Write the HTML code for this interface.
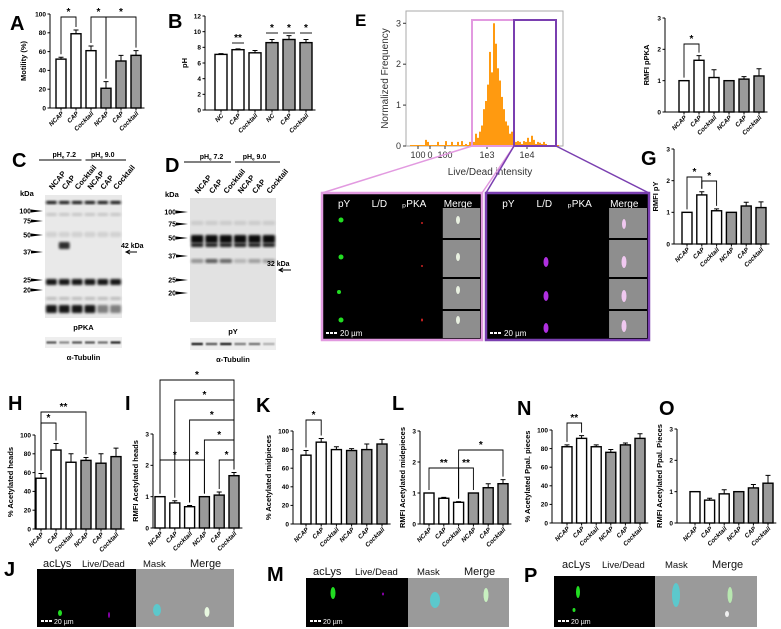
<!DOCTYPE html>
<html><head><meta charset="utf-8"><style>
html,body{margin:0;padding:0;background:#fff;}
svg{display:block;font-family:"Liberation Sans",Arial,sans-serif;}
</style></head><body>
<svg id="fig" width="781" height="629" viewBox="0 0 781 629" xmlns="http://www.w3.org/2000/svg">
<defs>
<filter id="bl" x="-20%" y="-50%" width="140%" height="200%"><feGaussianBlur stdDeviation="1.2"/></filter>
<filter id="bl2" x="-50%" y="-50%" width="200%" height="200%"><feGaussianBlur stdDeviation="0.8"/></filter>
</defs>
<rect width="781" height="629" fill="#fff"/>
<g id="letters" font-weight="bold" font-size="20" fill="#000">
<text x="10" y="30">A</text><text x="168" y="28">B</text><text x="12" y="167">C</text><text x="165" y="172">D</text>
<text x="355" y="26" font-size="17">E</text><text x="641" y="165">G</text>
<text x="8" y="410">H</text><text x="125" y="410">I</text><text x="256" y="412">K</text><text x="392" y="410">L</text>
<text x="517" y="415">N</text><text x="659" y="415">O</text>
<text x="4" y="576">J</text><text x="267" y="581">M</text><text x="524" y="582">P</text>
</g>
<g id="charts"></g>
<g id="blots"></g>
<g id="hist"></g>
<g id="micro"></g>
</svg>
<script>
const cats = ['NCAP','CAP','Cocktail','NCAP','CAP','Cocktail'];
const catsB = ['NC','CAP','Cocktail','NC','CAP','Cocktail'];
const aValues=[52,79,61,21,50,56]; const aErrs=[2,4,5,7,6,5];
const bValues=[7.1,7.7,7.3,8.6,9.0,8.6]; const bErrs=[0.1,0.1,0.3,0.4,0.5,0.4];
const fValues=[1,1.65,1.1,1,1.05,1.15]; const fErrs=[0,0.15,0.25,0,0.08,0.23];
const gValues=[1,1.55,1.05,1,1.2,1.15]; const gErrs=[0,0.1,0.06,0,0.12,0.18];
const hValues=[54,84,71,73,70,77]; const hErrs=[5,7,9,3,10,9];
const iValues=[1,0.8,0.68,1,1.05,1.67]; const iErrs=[0,0.07,0.04,0,0.1,0.1];
const kValues=[74,88,80,79,80,86]; const kErrs=[5,4,3,2,6,5];
const lValues=[1,0.83,0.7,1,1.17,1.3]; const lErrs=[0,0.03,0.02,0,0.13,0.13];
const nValues=[82,91,82,76,84,91]; const nErrs=[2,3,2,3,2,5];
const oValues=[1,0.73,0.93,1,1.12,1.27]; const oErrs=[0,0.06,0.13,0,0.11,0.25];
const histStartLog=1.4; const histBinLog=0.05;
const histValues=[0,0.15,0.1,0,0,0.02,0,0.1,0,0,0,0.12,0,0,0.1,0.02,0,0.1,0,0.12,0,0.05,0,0.1,
0.15,0.1,0.3,0.2,0.35,0.5,0.9,1.1,
1.5,2.3,1.8,3.0,2.5,1.9,1.6,1.2,0.9,0.6,
0.5,0.3,0.35,0.15,0.1,0.12,0.1,0.05,0.12,0.1,0.2,
0.1,0.25,0.15,0.05,0.1,0.08,0.05,0.1,0.05,0.02,0,0.02,0,0];
const histYTicks=[0,1,2,3];

const NS='http://www.w3.org/2000/svg';
function el(tag,attrs,parent,txt){const e=document.createElementNS(NS,tag);for(const k in attrs)e.setAttribute(k,attrs[k]);if(txt!==undefined)e.textContent=txt;parent.appendChild(e);return e;}

function barChart(name,cfg,labels,values,errs,sigs){
  const root=document.getElementById('charts');
  const g=el('g',{},root);
  
  
  const yS=v=>cfg.y0-v/cfg.ymax*(cfg.y0-cfg.yTop);
  const xS=i=>cfg.c0+i*cfg.step;
  const xEnd=xS(values.length-1)+cfg.step/2+1;
  const ya=el('line',{x1:cfg.ax,y1:cfg.yTop,x2:cfg.ax,y2:cfg.y0,stroke:'#000','stroke-width':1},g);
  
  
  const xa=el('line',{x1:cfg.ax,y1:cfg.y0,x2:xEnd,y2:cfg.y0,stroke:'#000','stroke-width':1},g);
  
  
  for(let v=0;v<=cfg.ymax+1e-9;v+=cfg.tick){
    const y=yS(v);
    el('line',{x1:cfg.ax-2.5,y1:y,x2:cfg.ax,y2:y,stroke:'#000','stroke-width':1},g);
    const t=el('text',{x:cfg.ax-4,y:y+2.3,'font-size':6.5,'font-weight':'bold','text-anchor':'end'},g,String(Math.round(v)));
    
    
  }
  const tt=el('text',{x:0,y:0,'font-size':7.5,'font-weight':'bold','text-anchor':'middle',transform:`translate(${cfg.ax-cfg.tOff},${(cfg.y0+cfg.yTop)/2}) rotate(-90)`},g,cfg.title);
  
  
  values.forEach((v,i)=>{
    const cx=xS(i),top=yS(v);
    const r=el('rect',{x:cx-cfg.bw/2,y:top,width:cfg.bw,height:cfg.y0-top,fill:i<3?'#fff':'#9a9a9a',stroke:'#000','stroke-width':1.4},g);
    
    
    if(errs[i]>0){
      const ey=yS(v+errs[i]);
      const e=el('path',{d:`M${cx},${top}V${ey}M${cx-2.5},${ey}H${cx+2.5}`,stroke:'#000','stroke-width':1,fill:'none'},g);
      
      
    }
    el('line',{x1:cx,y1:cfg.y0,x2:cx,y2:cfg.y0+2.5,stroke:'#000','stroke-width':1},g);
    const lt=el('text',{x:0,y:0,'font-size':6.3,'font-weight':'bold','font-style':'italic','text-anchor':'end',transform:`translate(${cx+3},${cfg.y0+6}) rotate(-45)`},g,labels[i]);
    
    
  });
  (sigs||[]).forEach(s=>{
    const [a,b,yl,txt]=s;
    let d;
    if(a===b){const cx=xS(a);d=`M${cx-6},${yl}H${cx+6}`;}
    else{const xa_=xS(a),xb_=xS(b);
      const ya_=Math.max(yl+4,yS(values[a]+errs[a])-3),yb_=Math.max(yl+4,yS(values[b]+errs[b])-3);
      d=`M${xa_},${ya_}V${yl}H${xb_}V${yb_}`;}
    const p=el('path',{d:d,stroke:'#000','stroke-width':0.9,fill:'none'},g);
    
    
    const st=el('text',{x:(xS(a)+xS(b))/2,y:yl-2,'font-size':10,'font-weight':'bold','text-anchor':'middle'},g,txt);
    
    
  });
}
barChart('chart-a-motility',{ax:50,y0:108,yTop:14,ymax:100,tick:20,c0:61,step:15,bw:10,title:'Motility (%)',tOff:24},cats,aValues,aErrs,[[0,1,17,'*'],[2,3,17,'*'],[3,5,17,'*']]);
barChart('chart-b-ph',{ax:205,y0:110,yTop:16,ymax:12,tick:2,c0:221,step:17,bw:12,title:'pH',tOff:18},catsB,bValues,bErrs,[[1,1,43,'**'],[3,3,33,'*'],[4,4,33,'*'],[5,5,33,'*']]);
barChart('chart-f-rmfi-ppka',{ax:665,y0:112,yTop:18,ymax:3,tick:1,c0:684,step:15,bw:10,title:'RMFI pPKA',tOff:16},cats,fValues,fErrs,[[0,1,44,'*']]);
barChart('chart-g-rmfi-py',{ax:674,y0:244,yTop:149,ymax:3,tick:1,c0:687,step:14.8,bw:10,title:'RMFI pY',tOff:16},cats,gValues,gErrs,[[0,1,177,'*'],[1,2,181,'*']]);
barChart('chart-h-acetylated-heads',{ax:35,y0:529,yTop:435,ymax:100,tick:20,c0:41,step:15,bw:10,title:'% Acetylated heads',tOff:22},cats,hValues,hErrs,[[0,1,423,'*'],[0,3,412,'**']]);
barChart('chart-i-rmfi-heads',{ax:153,y0:528,yTop:434,ymax:3,tick:1,c0:160,step:14.8,bw:10,title:'RMFI Acetylated heads',tOff:15},cats,iValues,iErrs,[[0,5,380,'*'],[1,5,400,'*'],[2,5,420,'*'],[3,5,440,'*'],[0,2,460,'*'],[2,3,460,'*'],[4,5,460,'*']]);
barChart('chart-k-acetylated-midpieces',{ax:293,y0:524,yTop:431,ymax:100,tick:20,c0:306,step:15.2,bw:10,title:'% Acetylated midpieces',tOff:22},cats,kValues,kErrs,[[0,1,420,'*']]);
barChart('chart-l-rmfi-midpieces',{ax:420,y0:524,yTop:431,ymax:3,tick:1,c0:429,step:14.8,bw:10,title:'RMFI Acetylated midepieces',tOff:15},cats,lValues,lErrs,[[0,2,468,'**'],[2,3,468,'**'],[2,5,450,'*']]);
barChart('chart-n-acetylated-ppal',{ax:552,y0:523,yTop:430,ymax:100,tick:20,c0:567,step:14.6,bw:10,title:'% Acetylated Ppal. pieces',tOff:22},cats,nValues,nErrs,[[0,1,423,'**']]);
barChart('chart-o-rmfi-ppal',{ax:677,y0:523,yTop:429,ymax:3,tick:1,c0:695,step:14.6,bw:10,title:'RMFI Acetylated Ppal. Pieces',tOff:15},cats,oValues,oErrs,[]);

(function(){
  const g=document.getElementById('blots');
  function blot(name,x0,x1,y0,y1,bg,bands,markers,header,lanesY,caption,capY,tub){
    const bx=el('g',{},g);
    
    
    el('rect',{x:x0,y:y0,width:x1-x0,height:y1-y0,fill:bg},bx);
    const lw=(x1-x0)/6;
    bands.forEach(b=>{
      el('rect',{x:x0+b[0]*lw+1,y:b[1],width:lw-2,height:b[2],fill:'#000',opacity:b[3],rx:1.5,filter:'url(#bl)'},bx);
    });
    markers.forEach(m=>{
      el('text',{x:x0-14,y:m[1]+2.5,'font-size':7,'font-weight':'bold','text-anchor':'end'},bx,m[0]);
      el('path',{d:`M${x0-14},${m[1]-1.5}L${x0-2},${m[1]}L${x0-14},${m[1]+1.5}Z`,fill:'#000'},bx);
    });
    el('text',{x:x0-25,y:markers[0][1]-15,'font-size':7.5,'font-weight':'bold'},bx,'kDa');
    const mid=(x0+x1)/2;
    el('line',{x1:x0-6,y1:header,x2:mid-2,y2:header,stroke:'#000','stroke-width':1},bx);
    el('line',{x1:mid+2,y1:header,x2:x1+4,y2:header,stroke:'#000','stroke-width':1},bx);
    const h1=el('text',{x:(x0+mid)/2,y:header-3,'font-size':7,'font-weight':'bold','text-anchor':'middle'},bx,'pH');
    el('tspan',{'font-size':4.5,dy:1.5},h1,'e');el('tspan',{dy:-1.5},h1,' 7.2');
    const h2=el('text',{x:(mid+x1)/2,y:header-3,'font-size':7,'font-weight':'bold','text-anchor':'middle'},bx,'pH');
    el('tspan',{'font-size':4.5,dy:1.5},h2,'e');el('tspan',{dy:-1.5},h2,' 9.0');
    cats.forEach((c,i)=>{
      el('text',{x:0,y:0,'font-size':7.5,'font-weight':'bold',transform:`translate(${x0+i*lw+lw/2+1},${lanesY}) rotate(-50)`},bx,c);
    });
    el('text',{x:mid,y:capY,'font-size':7.5,'font-weight':'bold','text-anchor':'middle'},bx,caption);
    el('rect',{x:x0,y:tub[0],width:x1-x0,height:tub[1]-tub[0],fill:'#eee'},bx);
    tub[2].forEach((o,i)=>el('rect',{x:x0+i*lw+1.5,y:(tub[0]+tub[1])/2-1.2,width:lw-3,height:2.4,fill:'#000',opacity:o,filter:'url(#bl2)'},bx));
    el('text',{x:mid,y:tub[1]+12,'font-size':7.5,'font-weight':'bold','text-anchor':'middle'},bx,'α-Tubulin');
  }
  const bc=[];
  for(let i=0;i<6;i++){bc.push([i,201,3,0.95]);bc.push([i,279,6,0.9]);bc.push([i,305,8,i<4?0.9:0.45]);bc.push([i,213,3,0.15]);bc.push([i,232,5,0.1]);bc.push([i,297,3,0.2]);}
  bc.push([1,242,7,0.8]);
  blot('blot-c-ppka',45,122,195,318,'#e9e9e9',bc,[['100',211],['75',221],['50',235],['37',252],['25',280],['20',290]],160,190,'pPKA',330,[337,348,[0.6,0.4,0.6,0.6,0.5,0.8]]);
  const bd=[];
  for(let i=0;i<6;i++){bd.push([i,235,8,0.95]);bd.push([i,243,4,0.85]);bd.push([i,259,4,[0.35,0.6,0.55,0.2,0.3,0.3][i]]);bd.push([i,221,4,0.1]);}
  blot('blot-d-py',190,276,198,322,'#e2e2e2',bd,[['100',212],['75',224],['50',238],['37',256],['25',280],['20',293]],162,194,'pY',334,[338,350,[0.85,0.6,0.85,0.45,0.5,0.25]]);
  const d=el('g',{},g);
  el('text',{x:121,y:248,'font-size':7,'font-weight':'bold'},d,'42 kDa');
  el('path',{d:'M137,252H127M130,250L126,252L130,254',stroke:'#000','stroke-width':1,fill:'none'},d);
  el('text',{x:267,y:266,'font-size':7,'font-weight':'bold'},d,'32 kDa');
  el('path',{d:'M291,270H280M283,268L279,270L283,272',stroke:'#000','stroke-width':1,fill:'none'},d);
})();

(function(){
  const g=document.getElementById('hist');
  const L=406,R=563,T=11,B=146,ymax=3.3;
  const xS=lg=>487+40*(lg-3);
  const yS=v=>B-v/ymax*(B-T);
  el('rect',{x:L,y:T,width:R-L,height:B-T,fill:'#fff',stroke:'#aaa','stroke-width':1},g);
  histValues.forEach((v,i)=>{
    if(v<=0)return;
    const lg=histStartLog+i*histBinLog;
    const r=el('rect',{x:xS(lg),y:yS(v),width:40*histBinLog,height:B-yS(v),fill:'#ff9a10'},g);
    
    
  });
  el('line',{x1:L+4,y1:B-0.5,x2:R-4,y2:B-0.5,stroke:'#ff9a10','stroke-width':1},g);
  histYTicks.forEach(v=>{
    el('line',{x1:L-3,y1:yS(v),x2:L,y2:yS(v),stroke:'#333'},g);
    el('text',{x:L-5,y:yS(v)+3,'font-size':9,'text-anchor':'end',fill:'#333'},g,String(v));
  });
  [[418,'100'],[430,'0'],[445,'100'],[487,'1e3'],[527,'1e4']].forEach(t=>{
    el('line',{x1:t[0],y1:B,x2:t[0],y2:B+3,stroke:'#333'},g);
    el('text',{x:t[0],y:B+12,'font-size':9,'text-anchor':'middle',fill:'#333'},g,t[1]);
  });
  el('text',{x:490,y:175,'font-size':10,'text-anchor':'middle',fill:'#333'},g,'Live/Dead  intensity');
  el('text',{x:0,y:0,'font-size':10,'text-anchor':'middle',fill:'#333',transform:`translate(388,${(T+B)/2}) rotate(-90)`},g,'Normalized Frequency');
  el('rect',{x:472,y:20,width:42,height:126,fill:'none',stroke:'#e29ae0','stroke-width':2},g);
  el('rect',{x:514,y:20,width:42,height:126,fill:'none',stroke:'#7a3fb0','stroke-width':2},g);
  el('line',{x1:472,y1:146,x2:322,y2:193,stroke:'#e29ae0','stroke-width':1.5},g);
  el('line',{x1:514,y1:146,x2:482,y2:193,stroke:'#e29ae0','stroke-width':1.5},g);
  el('line',{x1:514,y1:146,x2:486,y2:193,stroke:'#7a3fb0','stroke-width':1.5},g);
  el('line',{x1:556,y1:146,x2:649,y2:193,stroke:'#7a3fb0','stroke-width':1.5},g);
})();

(function(){
  const g=document.getElementById('micro');
  function panelE(name,x0,x1,border,dots){
    const p=el('g',{},g);
    
    
    el('rect',{x:x0,y:193,width:x1-x0,height:147,fill:'#000',stroke:border,'stroke-width':2.5},p);
    const w=x1-x0; const mx=x0+w*0.755;
    el('text',{x:x0+w*0.1,y:207,'font-size':10,fill:'#fff'},p,'pY');
    el('text',{x:x0+w*0.31,y:207,'font-size':10,fill:'#fff'},p,'L/D');
    el('text',{x:x0+w*0.5,y:207,'font-size':10,fill:'#fff'},p,'ₚPKA');
    el('text',{x:mx+1,y:207,'font-size':10,fill:'#fff'},p,'Merge');
    [[208,238],[240,277],[279,309],[311,338]].forEach(r=>el('rect',{x:mx,y:r[0],width:x1-mx-2,height:r[1]-r[0],fill:'#8e8e8e'},p));
    dots.forEach(d=>el('ellipse',{cx:x0+d[0],cy:d[1],rx:d[2],ry:d[3],fill:d[4]},p));
    el('line',{x1:x0+4,y1:333,x2:x0+16,y2:333,stroke:'#fff','stroke-width':2,'stroke-dasharray':'3,1'},p);
    el('text',{x:x0+18,y:336,'font-size':8,fill:'#fff'},p,'20 µm');
  }
  panelE('image-panel-live',322,482,'#e29ae0',[[19,220,2.5,2.5,'#22dd22'],[19,257,2.5,2.5,'#22dd22'],[17,292,2,2,'#22dd22'],[19,320,2.5,2.5,'#22dd22'],[100,223,1,1,'#c22'],[100,266,1,1,'#c22'],[100,320,1,1.5,'#c22'],[136,220,2,4,'#e8f0e0'],[136,257,2,4,'#e8f0e0'],[136,290,2,4,'#e8f0e0'],[136,320,2,4,'#e8f0e0']]);
  panelE('image-panel-dead',486,649,'#7a3fb0',[[60,262,2.5,5,'#b030e0'],[60,296,2.5,5,'#b030e0'],[60,328,2.5,5,'#b030e0'],[138,262,2.5,6,'#f0c8f0'],[138,296,2.5,6,'#f0c8f0'],[138,326,2.5,6,'#f0c8f0'],[138,224,2,5,'#f0c8f0']]);
  function panelB(name,xb,xm,xe,yt,hy,hx,dots){
    const p=el('g',{},g);
    
    
    el('rect',{x:xb,y:yt,width:xm-xb,height:627-yt,fill:'#000'},p);
    el('rect',{x:xm,y:yt,width:xe-xm,height:627-yt,fill:'#9a9a9a'},p);
    ['acLys','Live/Dead','Mask','Merge'].forEach((t,i)=>el('text',{x:hx[i],y:hy,'font-size':i===1?9.5:(i===2?9.5:11),fill:'#111'},p,t));
    dots.forEach(d=>el('ellipse',{cx:d[0],cy:d[1],rx:d[2],ry:d[3],fill:d[4]},p));
    el('line',{x1:xb+4,y1:621,x2:xb+16,y2:621,stroke:'#fff','stroke-width':2,'stroke-dasharray':'3,1'},p);
    el('text',{x:xb+17,y:624,'font-size':7,fill:'#fff'},p,'20 µm');
  }
  panelB('image-row-j',37,136,234,569,567,[43,82,143,190],[[60,613,2,3,'#22dd22'],[109,615,1,3,'#80a'],[157,610,4,6,'#5cc8cc'],[207,612,2.5,5,'#e8f8e0']]);
  panelB('image-row-m',306,408,509,578,575,[313,355,417,464],[[333,593,2.5,6,'#22dd22'],[383,594,1,1.5,'#80a'],[435,600,5,8,'#5cc8cc'],[486,595,2.5,7,'#c8f0c0']]);
  panelB('image-row-p',554,655,757,576,568,[562,602,665,712],[[578,592,2,6,'#22dd22'],[574,610,1.5,2,'#22dd22'],[676,595,4,12,'#5cc8cc'],[730,595,2.5,8,'#b8e8b0'],[727,614,2,3,'#f0f0f0']]);
})();
</script>
</body></html>
